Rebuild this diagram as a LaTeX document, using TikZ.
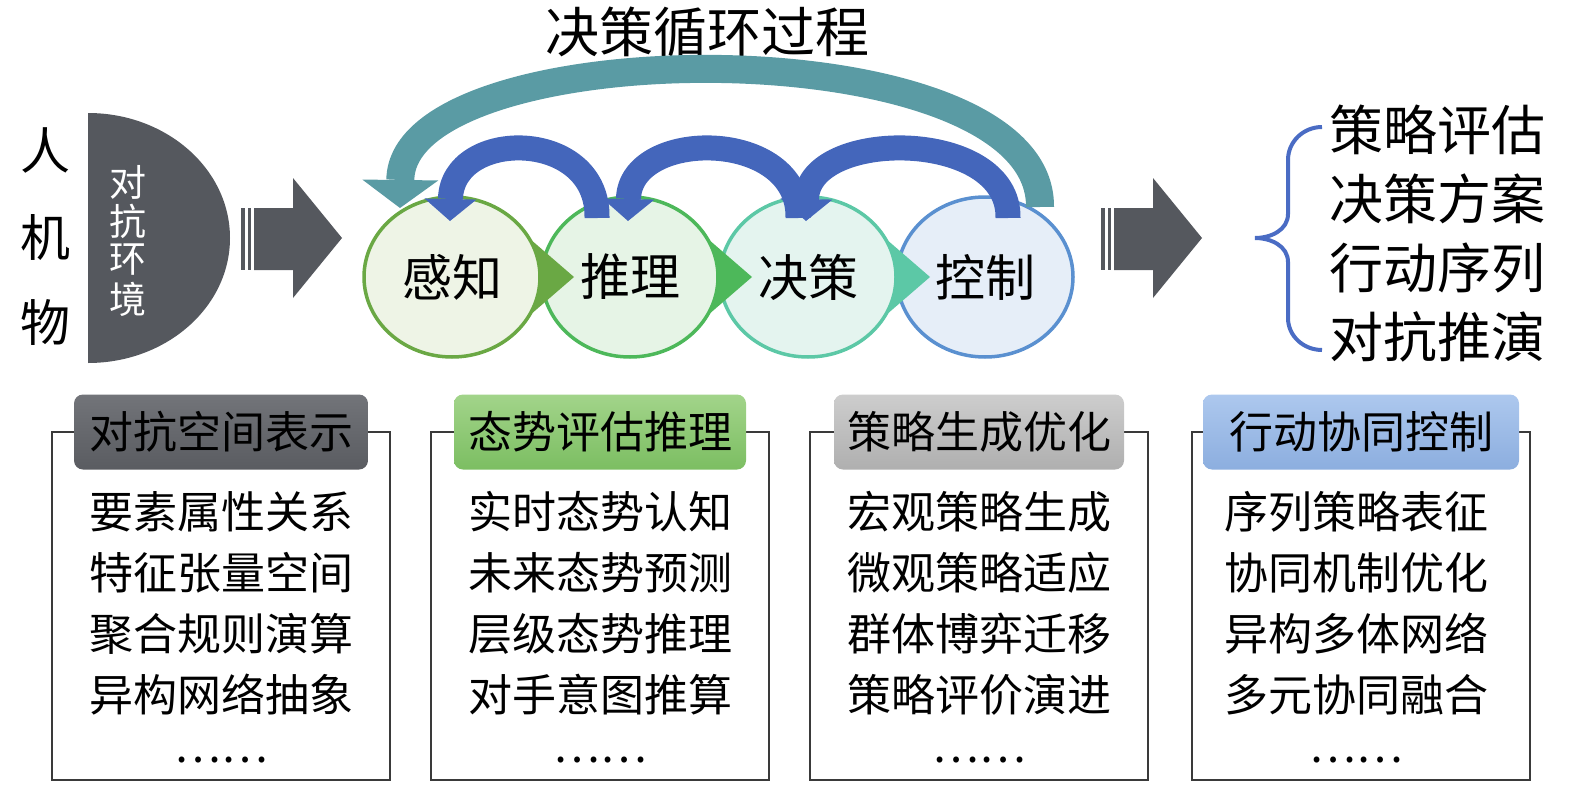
\documentclass[tikz,border=0pt]{standalone}
\usepackage{fontspec}
\newfontfamily\cjk{Noto Sans CJK SC}
\usetikzlibrary{shapes.geometric,arrows.meta}
\newcommand{\myfs}[2]{\fontsize{#1pt}{#2pt}\selectfont}
\newcommand{\dotsline}{\vphantom{国}\raisebox{9pt}{……}}
\definecolor{dgray}{HTML}{55585E}
\definecolor{cga}{HTML}{6AA844}\definecolor{cgaf}{HTML}{EEF4E6}
\definecolor{cgb}{HTML}{4DB85A}\definecolor{cgbf}{HTML}{E6F4E6}
\definecolor{cgc}{HTML}{5CC8A6}\definecolor{cgcf}{HTML}{E4F4EF}
\definecolor{cgd}{HTML}{5A90D0}\definecolor{cgdf}{HTML}{E6EEF8}
\definecolor{arrblue}{HTML}{4466BB}
\definecolor{arrteal}{HTML}{5A9BA4}
\definecolor{braceblue}{HTML}{4A6CC4}
\definecolor{la1}{HTML}{727479}\definecolor{lb1}{HTML}{5A5C61}
\definecolor{la2}{HTML}{A2D48A}\definecolor{lb2}{HTML}{7CBE62}
\definecolor{la3}{HTML}{CDCDCD}\definecolor{lb3}{HTML}{AFAFAF}
\definecolor{la4}{HTML}{ADC8EE}\definecolor{lb4}{HTML}{8CAEDF}
\definecolor{framec}{HTML}{3A3A3A}
\begin{document}
\begin{tikzpicture}[x=1pt,y=-1pt]
\tikzset{
  txt/.style={inner sep=0pt,font=\cjk\myfs{#1}{#1}},
  circ/.style={ellipse,line width=3.5pt,minimum width=176pt,minimum height=160pt,inner sep=0pt,font=\cjk\myfs{50}{50}},
  lab/.style={rounded corners=9pt,minimum height=75pt,inner sep=0pt,font=\cjk\myfs{44}{44}},
  framel/.style={draw=framec,line width=2.2pt},
  tealarr/.style={draw=arrteal,line width=28pt,-{Triangle[width=76pt,length=28pt,line width=0pt]}},
  bluearr/.style={draw=arrblue,line width=25pt,-{Triangle[width=52pt,length=22pt,line width=0pt]}},
}
\useasboundingbox (0,0) rectangle (1575,787);

% title
\node[txt=54] (title) at (707,32) {决策循环过程};

% left vertical text
\foreach \t/\y [count=\k] in {人/150,机/237,物/322}
  \node[txt=50] (h\k) at (45,\y) {\t};

% half disc
\fill[dgray] (88,113) arc[start angle=90,end angle=-90,x radius=142pt,y radius=125pt] -- cycle;
\foreach \t [count=\k] in {对,抗,环,境}
  \node[txt=37,text=white] (e\k) at (128,{143+39*\k}) {\t};

% left block arrow
\fill[dgray] (254,208) -- (293,208) -- (293,178) -- (342,238) -- (293,298) -- (293,270) -- (254,270) -- cycle;
\fill[dgray] (241,208) rectangle (244.5,270);
\fill[dgray] (247.5,208) rectangle (250.5,270);

% circles and chevrons
\node[circ,draw=cgd,fill=cgdf] (c4) at (985,277) {\raisebox{4pt}{控制}};
\fill[cgc] (856,213) -- (856,341) -- (930,277) -- cycle;
\node[circ,draw=cgc,fill=cgcf] (c3) at (808,277) {\raisebox{4pt}{决策}};
\fill[cgb] (678,213) -- (678,341) -- (752,277) -- cycle;
\node[circ,draw=cgb,fill=cgbf] (c2) at (630,277) {\raisebox{4pt}{推理}};
\fill[cga] (500,213) -- (500,341) -- (574,277) -- cycle;
\node[circ,draw=cga,fill=cgaf] (c1) at (452,277) {\raisebox{4pt}{感知}};

% big loop arrow
\coordinate (tS) at (1040,207);
\coordinate (tE) at (400,208);
\draw[tealarr] (tS) .. controls (1042,25) and (402,30) .. (tE);

% small arrows
\coordinate (bS1) at (597,218); \coordinate (bE1) at (450,221);
\coordinate (bS2) at (798,218); \coordinate (bE2) at (628,221);
\coordinate (bS3) at (1008,218); \coordinate (bE3) at (806,221);
\draw[bluearr] (bS1) .. controls (599,128) and (452,128) .. (bE1);
\draw[bluearr] (bS2) .. controls (800,128) and (630,128) .. (bE2);
\draw[bluearr] (bS3) .. controls (1010,128) and (808,128) .. (bE3);

% right block arrow
\fill[dgray] (1114,208) -- (1153,208) -- (1153,178) -- (1202,238) -- (1153,298) -- (1153,270) -- (1114,270) -- cycle;
\fill[dgray] (1101,208) rectangle (1104.5,270);
\fill[dgray] (1107.5,208) rectangle (1110.5,270);

% brace
\draw[braceblue,line width=4pt] (1322,127) to[out=180,in=90] (1288,160) -- (1288,214)
  to[out=-90,in=0] (1255,238) to[out=0,in=90] (1288,262) -- (1288,318) to[out=-90,in=180] (1322,350);
\foreach \t [count=\k] in {策略评估,决策方案,行动序列,对抗推演}
  \node[txt=54] (r\k) at (1437,{61+69*\k}) {\t};

% bottom boxes
\foreach \k/\cx/\lw/\ttl in {1/221/294pt/对抗空间表示,2/600/292pt/态势评估推理,3/979/290pt/策略生成优化,4/1361/316pt/行动协同控制}{
  \draw[framel] ({\cx-169},432) -- ({\cx-169},780) -- ({\cx+169},780) -- ({\cx+169},432) -- cycle;
  \node[lab,minimum width=\lw,top color=la\k,bottom color=lb\k] (l\k) at (\cx,432) {\ttl};
}
\foreach \t [count=\j] in {要素属性关系,特征张量空间,聚合规则演算,异构网络抽象,\dotsline}
  \node[txt=44] (a\j) at (221,{451+61*\j}) {\t};
\foreach \t [count=\j] in {实时态势认知,未来态势预测,层级态势推理,对手意图推算,\dotsline}
  \node[txt=44] (b\j) at (600,{451+61*\j}) {\t};
\foreach \t [count=\j] in {宏观策略生成,微观策略适应,群体博弈迁移,策略评价演进,\dotsline}
  \node[txt=44] (d\j) at (979,{451+61*\j}) {\t};
\foreach \t [count=\j] in {序列策略表征,协同机制优化,异构多体网络,多元协同融合,\dotsline}
  \node[txt=44] (f\j) at (1356,{451+61*\j}) {\t};
\end{tikzpicture}
\end{document}
